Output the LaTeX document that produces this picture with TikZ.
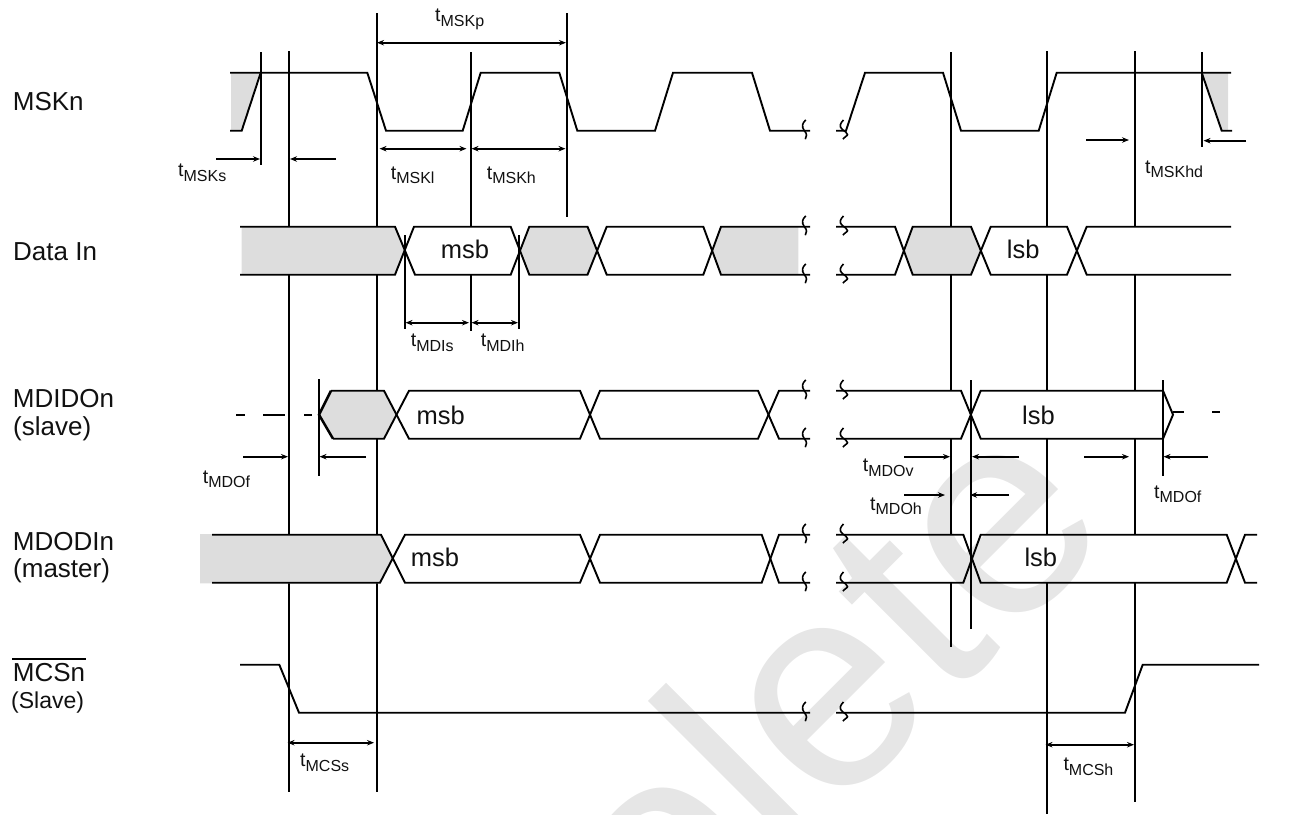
\documentclass[tikz,border=0pt]{standalone}
\usepackage{fontspec}
\setmainfont{Liberation Sans}
\usetikzlibrary{arrows.meta}
\definecolor{shade}{HTML}{DDDDDD}
\definecolor{mark}{HTML}{E6E6E6}
\definecolor{ink}{HTML}{111111}
\newcommand{\fs}[1]{\fontsize{#1}{#1}\selectfont}
\newcommand{\tlab}[1]{{\fs{19.5}t}\raisebox{-4.5pt}{\fs{16}#1}}
\tikzset{
  wire/.style={line width=1.9pt,draw=black,line join=miter},
  guide/.style={line width=1.8pt,draw=black},
  shaded/.style={fill=shade,draw=none},
  squiggle/.style={line width=1.6pt,draw=black},
  dimboth/.style={line width=1.7pt,draw=black,{Stealth[length=7pt,width=5.5pt]}-{Stealth[length=7pt,width=5.5pt]}},
  dimto/.style={line width=1.7pt,draw=black,-{Stealth[length=7pt,width=5.5pt]}},
  sig/.style={anchor=base west,inner sep=0pt,text=ink,font=\fs{26}},
  sigsmall/.style={anchor=base west,inner sep=0pt,text=ink,font=\fs{23}},
  val/.style={anchor=base west,inner sep=0pt,text=ink,font=\fs{25.5}},
  tim/.style={anchor=base west,inner sep=0pt,text=ink},
}
\newcommand{\squigA}[2]{\draw[squiggle] (#1+1.5,#2-10.7) .. controls (#1-2,#2-8) and (#1-3,#2-4) .. (#1,#2) .. controls (#1+3,#2+3) and (#1+2.5,#2+6) .. (#1+1,#2+8.5);}
\newcommand{\squigB}[2]{\draw[squiggle] (#1+1,#2-10.7) .. controls (#1-2,#2-8) and (#1-4,#2-4) .. (#1,#2-1) .. controls (#1+2,#2+0.5) and (#1+5,#2+2) .. (#1+5,#2+4) .. controls (#1+5,#2+5) and (#1+1,#2+7) .. (#1+0.5,#2+8.5);}
\begin{document}
\begin{tikzpicture}[x=1pt,y=-1pt]
\useasboundingbox (0,0) rectangle (1289,814);
% watermark
\begin{scope}
\clip (0,0) rectangle (1289,814);
\node[anchor=base east,inner sep=0pt,rotate=45,text=mark,font=\fs{293}] (watermark) at (1119,531) {olete};
\end{scope}
% guide lines
\foreach \x/\a/\b in {
 260.7/52/165, 289/51/227, 289/275/534.7, 289/582.7/792,
 377/13/227, 377/275/390.7, 377/438.7/534.7, 377/582.7/792,
 471/52/227, 471/275/331, 405/235/329, 519/235/329, 566.7/13/217,
 319/379/476,
 951/52/227, 951/275/390.7, 951/438.7/534.7, 951/582.7/647,
 1047/51/227, 1047/275/390.7, 1047/438.7/534.7, 1047/582.7/814,
 1135/51/227, 1135/275/390.7, 1135/438.7/534.7, 1135/582.7/802,
 971/380/629, 1163/380/476, 1201.7/52/147}
  \draw[guide] (\x,\a) -- (\x,\b);
% shaded areas
\fill[shaded] (231,72.7) -- (260.7,72.7) -- (241.7,130.7) -- (231,130.7) -- cycle;
\fill[shaded] (1201.7,72.7) -- (1228,72.7) -- (1228,130.7) -- (1221.7,130.7) -- cycle;
\fill[shaded] (241.7,226.7) -- (395,226.7) -- (405,250.7) -- (395,274.7) -- (241.7,274.7) -- cycle;
\fill[shaded] (529.3,226.7) -- (587.5,226.7) -- (596.7,250.7) -- (587.5,274.7) -- (529.3,274.7) -- (520,250.7) -- cycle;
\fill[shaded] (721,226.7) -- (798.3,226.7) -- (798.3,274.7) -- (721,274.7) -- (712.3,250.7) -- cycle;
\fill[shaded] (912.7,226.7) -- (971,226.7) -- (980.7,250.7) -- (971,274.7) -- (912.7,274.7) -- (904,250.7) -- cycle;
\fill[shaded] (319,414.7) -- (331,390.7) -- (384,390.7) -- (396.7,414.7) -- (384,438.7) -- (333,438.7) -- cycle;
\fill[shaded] (200,534) -- (381,534) -- (392.7,558.7) -- (380,583.4) -- (200,583.4) -- cycle;
% MSKn
\draw[wire] (230,72.7) -- (367.3,72.7) -- (386,130.7) -- (462.7,130.7) -- (480.7,72.7) -- (559.3,72.7) -- (577.3,130.7) -- (655,130.7) -- (673,72.7) -- (752,72.7) -- (770,130.7) -- (810,130.7);
\draw[wire] (230,130.7) -- (241.7,130.7) -- (260.7,72.7);
\draw[wire] (836,130.7) -- (846,130.7) -- (865,72.7) -- (943,72.7) -- (961,130.7) -- (1038.7,130.7) -- (1056.7,72.7) -- (1231,72.7);
\draw[wire] (1201.7,72.7) -- (1221.7,130.7) -- (1232,130.7);
% Data In
\draw[wire] (240,226.7) -- (395,226.7) -- (415,274.7) -- (510.7,274.7) -- (529.3,226.7) -- (587.5,226.7) -- (606.7,274.7) -- (703.3,274.7) -- (721,226.7) -- (810,226.7);
\draw[wire] (240,274.7) -- (395,274.7) -- (414,226.7) -- (510.7,226.7) -- (529.3,274.7) -- (587.5,274.7) -- (606.7,226.7) -- (703.3,226.7) -- (721,274.7) -- (810,274.7);
\draw[wire] (836,226.7) -- (895,226.7) -- (912.7,274.7) -- (971,274.7) -- (990.7,226.7) -- (1067,226.7) -- (1086.7,274.7) -- (1231,274.7);
\draw[wire] (836,274.7) -- (895,274.7) -- (912.7,226.7) -- (971,226.7) -- (990.7,274.7) -- (1067,274.7) -- (1086.7,226.7) -- (1231,226.7);
% MDIDOn
\draw[wire,line width=2.5pt] (331,390.7) -- (319,414.7) -- (333,438.7);
\draw[wire] (331,390.7) -- (384,390.7) -- (409,438.7) -- (580,438.7) -- (600,390.7) -- (758,390.7) -- (779,438.7) -- (810,438.7);
\draw[wire] (333,438.7) -- (384,438.7) -- (409,390.7) -- (580,390.7) -- (600,438.7) -- (758,438.7) -- (779,390.7) -- (810,390.7);
\draw[wire] (836,390.7) -- (961,390.7) -- (980.7,438.7) -- (1163,438.7);
\draw[wire] (836,438.7) -- (961,438.7) -- (980.7,390.7) -- (1163,390.7) -- (1173,414.7) -- (1163,438.7);
\foreach \a/\b/\y in {236/245/414.7, 263.3/285/414.7, 304/312/414.7, 1173/1184/412.3, 1212/1220/412.3}
  \draw[wire] (\a,\y) -- (\b,\y);
% MDODIn
\draw[wire] (212,534.7) -- (381,534.7) -- (405,582.7) -- (580,582.7) -- (600,534.7) -- (761.7,534.7) -- (779,582.7) -- (810,582.7);
\draw[wire] (212,582.7) -- (380,582.7) -- (405,534.7) -- (580,534.7) -- (600,582.7) -- (761.7,582.7) -- (779,534.7) -- (810,534.7);
\draw[wire] (836,534.7) -- (963.3,534.7) -- (980.7,582.7) -- (1226.7,582.7) -- (1245,534.7) -- (1257,534.7);
\draw[wire] (836,582.7) -- (963.3,582.7) -- (980.7,534.7) -- (1226.7,534.7) -- (1245,582.7) -- (1257,582.7);
% MCSn
\draw[wire] (240,664.7) -- (279.3,664.7) -- (299,712.7) -- (810,712.7);
\draw[wire] (836,712.7) -- (1125,712.7) -- (1142.7,664.7) -- (1259,664.7);
% break marks
\foreach \y in {130.7,226.7,274.7,390.7,438.7,534.7,582.7,712.7}{
  \squigA{804.3}{\y}
  \squigB{842.5}{\y}
}
% dimensions
\draw[dimboth] (377,42.7) -- (566,42.7);
\draw[dimboth] (379.5,148.7) -- (466.5,148.7);
\draw[dimboth] (471.5,148.7) -- (565.5,148.7);
\draw[dimto] (216,159) -- (260,159);
\draw[dimto] (336,159) -- (290,159);
\draw[dimto] (1086,140) -- (1129,140);
\draw[dimto] (1246,140.7) -- (1203.5,140.7);
\draw[dimboth] (405.5,322.7) -- (469,322.7);
\draw[dimboth] (471.5,322.7) -- (518,322.7);
\draw[dimto] (243,456.7) -- (288,456.7);
\draw[dimto] (366,456.7) -- (319.5,456.7);
\draw[dimto] (904,456.7) -- (950,456.7);
\draw[dimto] (1019,456.7) -- (972,456.7);
\draw[dimto] (904,495) -- (945,495);
\draw[dimto] (1009,495) -- (970,495);
\draw[dimto] (1084,456.7) -- (1129,456.7);
\draw[dimto] (1208,456.7) -- (1163.5,456.7);
\draw[dimboth] (287.5,742.7) -- (374,742.7);
\draw[dimboth] (1045.5,744.7) -- (1134,744.7);
% signal names
\node[sig] (mskn) at (12.7,110) {MSKn};
\node[sig] (datain) at (13,260) {Data In};
\node[sig] (mdidon) at (12.7,407.7) {MDIDOn};
\node[sig] (slavea) at (13,435) {(slave)};
\node[sig] (mdodin) at (12.7,550) {MDODIn};
\node[sig] (master) at (13,577.7) {(master)};
\node[sig] (mcsn) at (12.7,681.7) {MCSn};
\draw[line width=1.8pt,draw=black] (12,658.7) -- (86,658.7);
\node[sigsmall] (slaveb) at (11,708) {(Slave)};
% values
\node[val] (msba) at (440.7,258.3) {msb};
\node[val] (lsba) at (1006.7,258.3) {lsb};
\node[val] (msbb) at (416.5,424) {msb};
\node[val] (lsbb) at (1022,424) {lsb};
\node[val] (msbc) at (410.7,566) {msb};
\node[val] (lsbc) at (1024.3,566) {lsb};
% timing labels
\node[tim] (tp) at (435,21.7) {\tlab{MSKp}};
\node[tim] (ts) at (178,176.7) {\tlab{MSKs}};
\node[tim] (tl) at (390.7,179) {\tlab{MSKl}};
\node[tim] (th) at (486.7,179) {\tlab{MSKh}};
\node[tim] (thd) at (1145,173) {\tlab{MSKhd}};
\node[tim] (tis) at (410.7,346.7) {\tlab{MDIs}};
\node[tim] (tih) at (480.7,346.7) {\tlab{MDIh}};
\node[tim] (tof) at (202.7,483) {\tlab{MDOf}};
\node[tim] (tov) at (862.7,471.7) {\tlab{MDOv}};
\node[tim] (toh) at (870,510) {\tlab{MDOh}};
\node[tim] (tofb) at (1154,498) {\tlab{MDOf}};
\node[tim] (tcs) at (300,766.7) {\tlab{MCSs}};
\node[tim] (tch) at (1063.3,770.7) {\tlab{MCSh}};
\end{tikzpicture}
\end{document}
